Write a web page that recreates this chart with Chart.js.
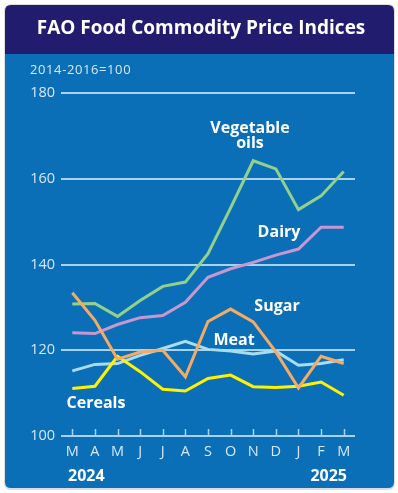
<!DOCTYPE html>
<html>
<head>
<meta charset="utf-8">
<script src="https://cdn.jsdelivr.net/npm/chart.js@4.4.1/dist/chart.umd.min.js"></script>
<style>
  html, body { margin: 0; padding: 0; background: #ffffff; }
  #wrap { width: 398px; height: 493px; position: relative; }
</style>
</head>
<body>
<div id="wrap"><canvas id="c" width="398" height="493"></canvas></div>
<script>
const months = ["M", "A", "M", "J", "J", "A", "S", "O", "N", "D", "J", "F", "M"];
const yTicks = [100, 120, 140, 160, 180];
const vegetableOils = [130.8, 130.9, 127.9, 131.6, 134.9, 135.9, 142.5, 153.2, 164.2, 162.3, 152.8, 156.0, 161.7];
const dairy = [124.1, 123.9, 126.0, 127.6, 128.1, 131.2, 137.0, 139.0, 140.5, 142.2, 143.6, 148.7, 148.7];
const sugar = [133.4, 127.0, 117.9, 119.6, 120.0, 113.8, 126.7, 129.6, 126.6, 119.6, 111.2, 118.6, 116.9];
const meat = [115.2, 116.7, 116.9, 118.8, 120.4, 122.1, 120.2, 119.8, 119.1, 119.8, 116.5, 116.9, 117.8];
const cereals = [111.1, 111.6, 118.6, 115.0, 110.9, 110.5, 113.4, 114.2, 111.5, 111.3, 111.6, 112.6, 109.5];

const NAVY = '#221c6e';
const BLUE = '#0b6fb8';
const GRID = '#a9d2f0';
const LABEL = '#d6e8f6';
const FONT = '"Open Sans", "Liberation Sans", sans-serif';

function rr(ctx, x, y, w, h, r) {
  ctx.beginPath();
  ctx.moveTo(x + r[0], y);
  ctx.lineTo(x + w - r[1], y);
  ctx.quadraticCurveTo(x + w, y, x + w, y + r[1]);
  ctx.lineTo(x + w, y + h - r[2]);
  ctx.quadraticCurveTo(x + w, y + h, x + w - r[2], y + h);
  ctx.lineTo(x + r[3], y + h);
  ctx.quadraticCurveTo(x, y + h, x, y + h - r[3]);
  ctx.lineTo(x, y + r[0]);
  ctx.quadraticCurveTo(x, y, x + r[0], y);
  ctx.closePath();
}

const backgroundPlugin = {
  id: 'bg',
  beforeDraw(chart) {
    const ctx = chart.ctx;
    ctx.save();
    ctx.fillStyle = '#ffffff';
    ctx.fillRect(0, 0, chart.width, chart.height);
    ctx.fillStyle = '#d9dde3';
    rr(ctx, 4, 4, 391, 486, [7, 7, 7, 7]);
    ctx.fill();
    ctx.fillStyle = NAVY;
    rr(ctx, 5, 5, 389, 50, [6, 6, 0, 0]);
    ctx.fill();
    ctx.fillStyle = BLUE;
    rr(ctx, 5, 54, 389, 434, [0, 0, 6, 6]);
    ctx.fill();
    // title
    ctx.fillStyle = '#ffffff';
    ctx.font = 'bold 19px ' + FONT;
    ctx.textAlign = 'center';
    ctx.textBaseline = 'middle';
    ctx.fillText('FAO Food Commodity Price Indices', 201, 29);
    // base note
    ctx.fillStyle = LABEL;
    ctx.font = '13px ' + FONT;
    ctx.letterSpacing = '0.6px';
    ctx.textAlign = 'left';
    ctx.fillText('2014-2016=100', 30, 70);
    ctx.letterSpacing = '0px';
    ctx.restore();
  },
  afterDatasetsDraw(chart) {
    const ctx = chart.ctx;
    const xs = chart.scales.x;
    const ys = chart.scales.y;
    ctx.save();
    // x tick marks pointing up
    ctx.strokeStyle = GRID;
    ctx.lineWidth = 1.5;
    const y0 = ys.getPixelForValue(100);
    months.forEach((m, i) => {
      const px = Math.round(xs.getPixelForValue(i)) + 0.5;
      ctx.beginPath();
      ctx.moveTo(px, y0);
      ctx.lineTo(px, y0 - 7);
      ctx.stroke();
    });
    // years
    ctx.fillStyle = '#ffffff';
    ctx.font = 'bold 16px ' + FONT;
    ctx.textBaseline = 'middle';
    ctx.textAlign = 'left';
    ctx.fillText('2024', 68, 476);
    ctx.textAlign = 'right';
    ctx.fillText('2025', 347, 476);
    // series labels
    ctx.font = 'bold 16px ' + FONT;
    ctx.textAlign = 'center';
    ctx.fillText('Vegetable', 250, 128);
    ctx.fillText('oils', 250, 143);
    ctx.fillText('Dairy', 279, 232);
    ctx.fillText('Sugar', 277, 306);
    ctx.fillText('Meat', 234, 340);
    ctx.fillText('Cereals', 96, 403);
    ctx.restore();
  }
};

const ds = (label, data, color) => ({
  label, data, borderColor: color, backgroundColor: color,
  borderWidth: 3, pointRadius: 0, tension: 0, fill: false,
  borderJoinStyle: 'miter'
});

new Chart(document.getElementById('c'), {
  type: 'line',
  data: {
    labels: months,
    datasets: [
      ds('Sugar', sugar, '#f6ab62'),
      ds('Cereals', cereals, '#fff200'),
      ds('Meat', meat, '#a9dcef'),
      ds('Dairy', dairy, '#c797d2'),
      ds('Vegetable oils', vegetableOils, '#93d08c')
    ]
  },
  options: {
    responsive: false,
    animation: false,
    devicePixelRatio: 1,
    layout: { padding: { left: 0, right: 43, top: 93, bottom: 27 } },
    plugins: { legend: { display: false }, tooltip: { enabled: false }, title: { display: false } },
    scales: {
      x: {
        type: 'category',
        offset: true,
        afterFit(s) { s.height = 30; },
        border: { display: false },
        grid: { display: false, drawTicks: false },
        ticks: { color: LABEL, font: { family: FONT, size: 14.5 }, padding: 7, maxRotation: 0, autoSkip: false }
      },
      y: {
        min: 100, max: 180,
        afterFit(s) { s.width = 61; },
        afterBuildTicks(s) { s.ticks = yTicks.map(v => ({ value: v })); },
        border: { display: false },
        grid: { color: GRID, lineWidth: 2, drawTicks: false },
        ticks: { color: LABEL, font: { family: FONT, size: 14.5 }, padding: 6 }
      }
    }
  },
  plugins: [backgroundPlugin]
});
</script>
</body>
</html>
